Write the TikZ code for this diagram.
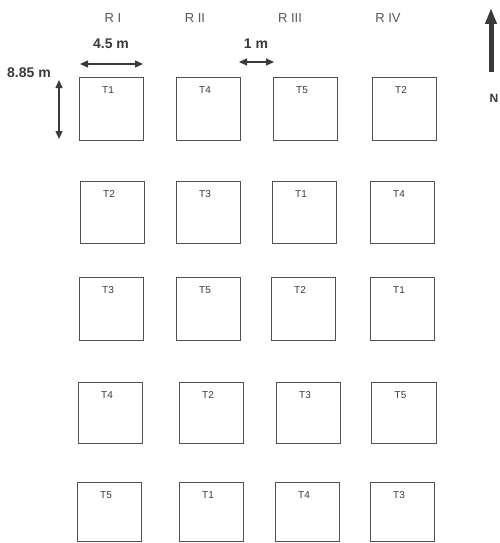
\documentclass[tikz,border=0pt]{standalone}
\usepackage{fontspec}
\setmainfont{Liberation Sans}
\usetikzlibrary{arrows.meta}
\definecolor{ink}{HTML}{3A3A3A}
\definecolor{boxc}{HTML}{505050}
\tikzset{
  plot/.style={draw=boxc, line width=0.9pt, inner sep=0pt, outer sep=0pt},
  tlab/.style={text=ink, font=\fontsize{10}{10}\selectfont, inner sep=0pt},
  rlab/.style={text=ink!85, font=\fontsize{13}{13}\selectfont, inner sep=0pt},
  dimlab/.style={text=ink, font=\bfseries\fontsize{14}{14}\selectfont, inner sep=0pt},
  dimarrow/.style={draw=ink, line width=1.2pt, {Triangle[length=8pt,width=7pt]}-{Triangle[length=8pt,width=7pt]}},
  northarrow/.style={draw=ink, line width=5pt, -{Triangle[length=16pt,width=11pt]}},
}
\begin{document}
\begin{tikzpicture}[x=1pt,y=-1pt]
\useasboundingbox (0,0) rectangle (500,543);
\fill[white] (0,0) rectangle (500,543);
% plots
\foreach \n/\a/\b/\c/\d/\t in {
  p11/79/77/143/140/T1, p12/176/77/240/140/T4, p13/273/77/337/140/T5, p14/372/77/436/140/T2,
  p21/80/181/144/243/T2, p22/176/181/240/243/T3, p23/272/181/336/243/T1, p24/370/181/434/243/T4,
  p31/79/277/143/340/T3, p32/176/277/240/340/T5, p33/271/277/335/340/T2, p34/370/277/434/340/T1,
  p41/78/382/142/443/T4, p42/179/382/243/443/T2, p43/276/382/340/443/T3, p44/371/382/436/443/T5,
  p51/77/482/141/541/T5, p52/179/482/243/541/T1, p53/275/482/339/541/T4, p54/370/482/434/541/T3}
{
  \node[plot, minimum width={\c-\a}, minimum height={\d-\b}] (\n) at ({(\a+\c)/2},{(\b+\d)/2}) {};
  \node[tlab] (\n l) at ([xshift=-3pt,yshift=-13pt]\n.north) {\t};
}
% replication labels
\node[rlab] (r1) at (113,18) {R I};
\node[rlab] (r2) at (195,18) {R II};
\node[rlab] (r3) at (290,18) {R III};
\node[rlab] (r4) at (388,18) {R IV};
% dimensions
\node[dimlab] (w) at (111,44) {4.5 m};
\coordinate (wa) at (80,64);
\coordinate (wb) at (143,64);
\draw[dimarrow] (wa) -- (wb);
\node[dimlab] (g) at (256,44) {1 m};
\coordinate (ga) at (239,62);
\coordinate (gb) at (274,62);
\draw[dimarrow] (ga) -- (gb);
\node[dimlab] (h) at (29,73) {8.85 m};
\coordinate (ha) at (59,80);
\coordinate (hb) at (59,139);
\draw[dimarrow] (ha) -- (hb);
% north arrow
\coordinate (na) at (491,72);
\coordinate (nb) at (491,8);
\draw[northarrow] (na) -- (nb);
\node[text=ink, font=\bfseries\fontsize{12}{12}\selectfont, inner sep=0pt] (n) at (494,98) {N};
\end{tikzpicture}
\end{document}
